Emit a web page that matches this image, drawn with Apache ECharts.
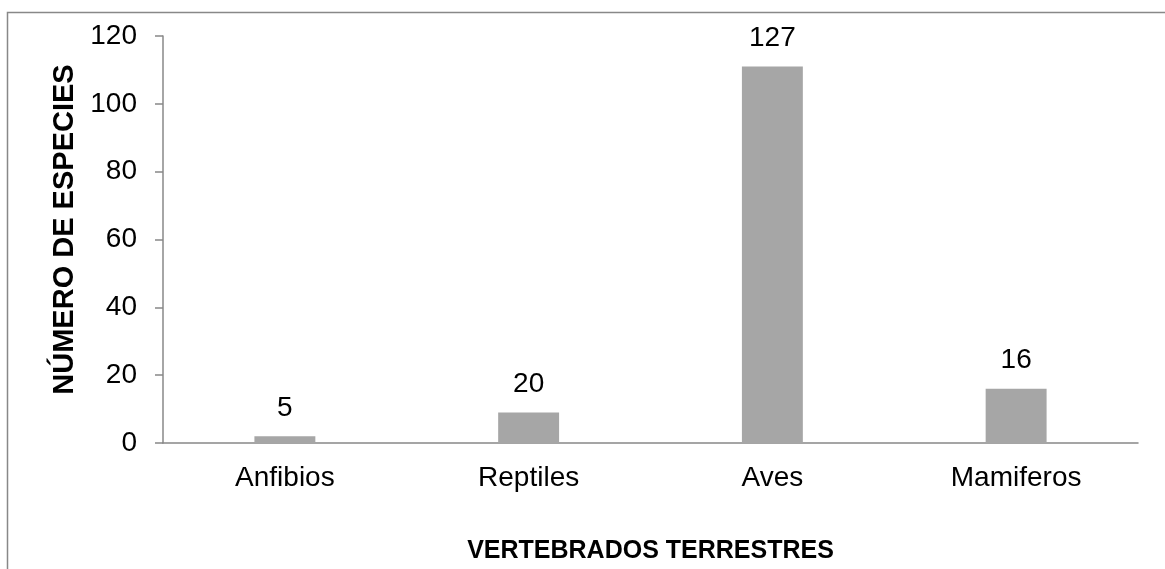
<!DOCTYPE html>
<html>
<head>
<meta charset="utf-8">
<script src="https://cdn.jsdelivr.net/npm/echarts@6/dist/echarts.min.js"></script>
<style>html,body{margin:0;padding:0;background:#fff;}#c{width:1165px;height:569px;}</style>
</head>
<body>
<div id="c"></div>
<script>
var categories = ['Anfibios', 'Reptiles', 'Aves', 'Mamiferos'];
var barHeights = [2, 9, 111, 16];
var labelValues = [5, 20, 127, 16];
var yTicks = [0, 20, 40, 60, 80, 100, 120];

var chart = echarts.init(document.getElementById('c'));
chart.setOption({
  animation: false,
  textStyle: { fontFamily: 'Liberation Sans, Arial, sans-serif' },
  graphic: [{
    type: 'rect', left: 5, top: 10, silent: true,
    shape: { width: 1200, height: 600 },
    style: { fill: 'none', stroke: '#888888', lineWidth: 1.5 }
  }],
  grid: { left: 163, right: 27, top: 36, bottom: 121 },
  xAxis: {
    type: 'category',
    data: categories,
    name: 'VERTEBRADOS TERRESTRES',
    nameLocation: 'middle',
    nameGap: 96,
    nameTextStyle: { fontSize: 25, fontWeight: 'bold', color: '#000' },
    axisLine: { lineStyle: { color: '#888888', width: 1.5 } },
    axisTick: { show: false },
    axisLabel: { fontSize: 28, color: '#000', margin: 21 }
  },
  yAxis: {
    type: 'value',
    min: yTicks[0],
    max: yTicks[yTicks.length - 1],
    interval: 20,
    name: 'NÚMERO DE ESPECIES',
    nameLocation: 'middle',
    nameGap: 82,
    nameTextStyle: { fontSize: 29, fontWeight: 'bold', color: '#000', padding: [0, 0, 0, 20] },
    axisLine: { show: true, lineStyle: { color: '#888888', width: 1.5 } },
    axisTick: { show: true, length: 8, lineStyle: { color: '#888888', width: 1.5 } },
    axisLabel: { fontSize: 28, color: '#000', margin: 26 },
    splitLine: { show: false }
  },
  series: [{
    type: 'bar',
    data: barHeights,
    barWidth: '25%',
    itemStyle: { color: '#a6a6a6' },
    label: {
      show: true,
      position: 'top',
      distance: 14,
      fontSize: 28,
      color: '#000',
      formatter: function (p) { return String(labelValues[p.dataIndex]); }
    }
  }]
});
</script>
</body>
</html>
